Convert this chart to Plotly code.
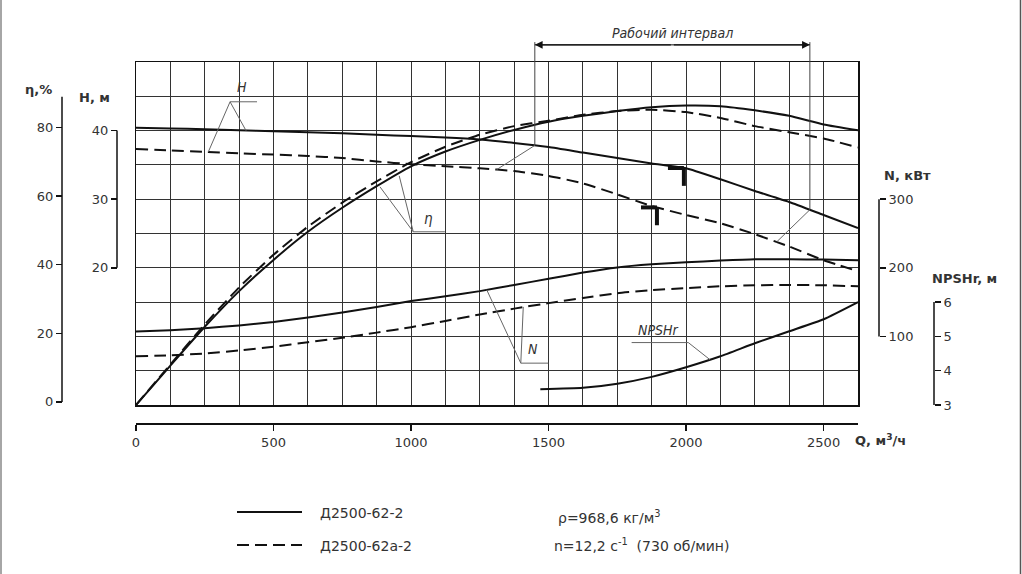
import numpy as np
import plotly.graph_objects as go

# ---------------- data ----------------
Q = [0, 125, 250, 375, 500, 625, 750, 875, 1000, 1125, 1250, 1375, 1500,
     1625, 1750, 1875, 2000, 2125, 2250, 2375, 2500, 2625]

H_62_2 = [40.4, 40.3, 40.2, 40.05, 39.9, 39.75, 39.6, 39.4, 39.2, 39.0, 38.7,
          38.2, 37.6, 36.8, 36.0, 35.2, 34.5, 32.9, 31.2, 29.6, 27.7, 25.8]
H_62a_2 = [37.3, 37.1, 36.9, 36.7, 36.5, 36.3, 36.0, 35.5, 35.1, 34.8, 34.5,
           34.1, 33.4, 32.3, 30.7, 29.0, 27.7, 26.5, 24.9, 23.1, 21.1, 19.5]

ETA_62_2 = [0, 11.5, 22.8, 33.2, 42.3, 50.5, 57.5, 63.8, 69.6, 73.9, 77.3,
            80.2, 82.6, 84.3, 85.7, 86.8, 87.3, 87.1, 85.9, 84.3, 81.8, 80.1]
ETA_62a_2 = [0, 11.8, 23.5, 34.3, 43.8, 52.0, 59.0, 65.2, 70.8, 75.3, 78.8,
             81.3, 82.9, 84.6, 85.7, 86.1, 85.4, 83.7, 81.3, 79.5, 77.7, 75.1]

N_62_2 = [107, 109, 112, 116, 121, 127.5, 135, 143, 151.5, 158.5, 166, 175,
          184, 193, 200.5, 205, 208, 210.5, 212.5, 212.5, 212, 211]
N_62a_2 = [71, 72.5, 75, 79.5, 85, 91.5, 98, 105.5, 113.5, 122.5, 132, 140.5,
           148.5, 156, 163, 167.5, 170.5, 173, 174.5, 175, 174.5, 173]

Q_NPSH = [1470, 1625, 1750, 1875, 2000, 2125, 2250, 2375, 2500, 2625]
NPSH_62_2 = [3.46, 3.5, 3.62, 3.82, 4.1, 4.42, 4.8, 5.15, 5.5, 6.0]

Q_TICKS = [0, 500, 1000, 1500, 2000, 2500]
ETA_TICKS = [0, 20, 40, 60, 80]
H_TICKS = [20, 30, 40]
N_TICKS = [100, 200, 300]
NPSH_TICKS = [3, 4, 5, 6]

WORK_RANGE = [1450, 2450]          # рабочий интервал, м3/ч
RATED_Q = [1992, 1894]             # номинальные точки (62-2, 62а-2)

# ---------------- layout geometry ----------------
FIG_W, FIG_H = 1022, 574
L_PX, R_PX, T_PX, B_PX = 40, 980, 62, 424


def px_x(px):
    return (px - L_PX) / (R_PX - L_PX)


def px_y(py):
    return (B_PX - py) / (B_PX - T_PX)


XDOM = [px_x(136), px_x(858)]
YDOM = [px_y(405), 1.0]


def g_to_paper(g):
    return YDOM[0] + g / 100.0 * (YDOM[1] - YDOM[0])


FONT = "DejaVu Sans, Liberation Sans, Arial, sans-serif"
IFONT = "DejaVu Sans Condensed, DejaVu Sans, Liberation Sans, sans-serif"
TXT = "#333333"
INK = "#111111"
LEAD = "#666666"
DASH = "12px,6px"

fig = go.Figure()

line_solid = dict(color=INK, width=2, shape="spline", smoothing=0.5)
line_dash = dict(color=INK, width=2, dash=DASH, shape="spline", smoothing=0.5)

# η on grid axis (y)
fig.add_trace(go.Scatter(x=Q, y=ETA_62_2, mode="lines", line=line_solid,
                         xaxis="x", yaxis="y", hoverinfo="skip"))
fig.add_trace(go.Scatter(x=Q, y=ETA_62a_2, mode="lines", line=line_dash,
                         xaxis="x", yaxis="y", hoverinfo="skip"))
# H on y3
fig.add_trace(go.Scatter(x=Q, y=H_62_2, mode="lines", line=line_solid,
                         xaxis="x", yaxis="y3", hoverinfo="skip"))
fig.add_trace(go.Scatter(x=Q, y=H_62a_2, mode="lines", line=line_dash,
                         xaxis="x", yaxis="y3", hoverinfo="skip"))
# N on y4
fig.add_trace(go.Scatter(x=Q, y=N_62_2, mode="lines", line=line_solid,
                         xaxis="x", yaxis="y4", hoverinfo="skip"))
fig.add_trace(go.Scatter(x=Q, y=N_62a_2, mode="lines", line=line_dash,
                         xaxis="x", yaxis="y4", hoverinfo="skip"))
# NPSH on y5
fig.add_trace(go.Scatter(x=Q_NPSH, y=NPSH_62_2, mode="lines", line=line_solid,
                         xaxis="x", yaxis="y5", hoverinfo="skip"))
# dummy trace so that the label axes x2/y2 render
fig.add_trace(go.Scatter(x=[0], y=[0], mode="markers", marker=dict(opacity=0),
                         xaxis="x2", yaxis="y2", hoverinfo="skip"))

shapes = []
annotations = []


def seg(x0, y0, x1, y1, xref="x", yref="y", color=LEAD, width=1, dash=None):
    ln = dict(color=color, width=width)
    if dash:
        ln["dash"] = dash
    shapes.append(dict(type="line", xref=xref, yref=yref, x0=x0, y0=y0,
                       x1=x1, y1=y1, line=ln))


def label(text, x, y, xref="x", yref="y", size=14, family=IFONT, xanchor="center"):
    annotations.append(dict(x=x, y=y, xref=xref, yref=yref, text=text, showarrow=False,
                            xanchor=xanchor, yanchor="middle",
                            font=dict(family=family, size=size, color=TXT)))


# partial axis lines (brackets)
seg(px_x(62), ETA_TICKS[0], px_x(62), 89, xref="paper", yref="y2", color=INK, width=1.5)
seg(px_x(117), H_TICKS[0], px_x(117), H_TICKS[-1], xref="paper", yref="y3", color=INK, width=1.5)
seg(px_x(879), N_TICKS[0], px_x(879), N_TICKS[-1], xref="paper", yref="y4", color=INK, width=1.5)
seg(px_x(934), NPSH_TICKS[0], px_x(934), NPSH_TICKS[-1], xref="paper", yref="y5", color=INK, width=1.5)

# working interval
h_s = [float(np.interp(q, Q, H_62_2)) for q in WORK_RANGE]
h_d_left = float(np.interp(1311, Q, H_62a_2))
h_d_right = float(np.interp(2329, Q, H_62a_2))
for q, h in zip(WORK_RANGE, h_s):
    seg(q, g_to_paper(h * 2), q, g_to_paper(105.8), xref="x", yref="paper",
        color="#444444", width=1)
seg(WORK_RANGE[0], h_s[0], 1311, h_d_left, yref="y3")
seg(WORK_RANGE[1], h_s[1], 2329, h_d_right, yref="y3")
arrow_y = g_to_paper(105)
seg(WORK_RANGE[0], arrow_y, WORK_RANGE[1], arrow_y, xref="x", yref="paper", color=INK, width=1)
mid = (WORK_RANGE[0] + WORK_RANGE[1]) / 2
for q in WORK_RANGE:
    annotations.append(dict(x=q, y=arrow_y, xref="x", yref="paper", ax=mid, ay=0,
                            axref="x", ayref="pixel", text="", showarrow=True,
                            arrowhead=2, arrowsize=1.3, arrowwidth=1.2,
                            arrowcolor=INK, standoff=0, startstandoff=0))
label("<i>Рабочий интервал</i>", 1949, g_to_paper(108.6), yref="paper")

# rated point markers
for q, hs in zip(RATED_Q, [H_62_2, H_62a_2]):
    h = float(np.interp(q, Q, hs))
    seg(q - 58, h, q, h, yref="y3", color=INK, width=4)
    seg(q, h, q, h - 2.6, yref="y3", color=INK, width=4)

# curve labels and leaders (grid units)
seg(342, 88.4, 440, 88.4)
seg(342, 88.4, 263, 73.8)
seg(342, 88.4, 400, 80.0)
label("<i>H</i>", 384, 92.6)
seg(1008, 50.5, 1123, 50.5)
seg(1008, 50.5, 887, 63.6)
seg(1008, 50.5, 957, 66.8)
label("<i>η</i>", 1063, 54.3, size=15)
seg(1399, 12.2, 1499, 12.2)
seg(1399, 12.2, 1275, 33.6)
seg(1399, 12.2, 1408, 28.6)
label("<i>N</i>", 1444, 16.2)
seg(1802, 18.2, 2008, 18.2)
seg(2008, 18.2, 2087, 13.2)
label("<i>NPSHr</i>", 1899, 22.0)

# axis titles
for txt, cx, cy in [("<b>η,%</b>", 38, 89), ("<b>H, м</b>", 94, 97),
                    ("<b>N, кВт</b>", 907, 175), ("<b>NPSHr, м</b>", 964, 278),
                    ("<b>Q, м<sup>3</sup>/ч</b>", 880, 440)]:
    label(txt, px_x(cx), px_y(cy), xref="paper", yref="paper", size=13, family=FONT)

# legend + notes
seg(px_x(237), px_y(512), px_x(302), px_y(512), xref="paper", yref="paper", color=INK, width=2)
seg(px_x(237), px_y(545), px_x(302), px_y(545), xref="paper", yref="paper", color=INK, width=2, dash=DASH)
for txt, lx, cy in [("Д2500-62-2", 318, 513), ("Д2500-62а-2", 318, 546),
                    ("ρ=968,6 кг/м<sup>3</sup>", 556, 517),
                    ("n=12,2 с<sup>-1</sup>  (730 об/мин)", 552, 545)]:
    label(txt, px_x(lx), px_y(cy), xref="paper", yref="paper", size=14, family=FONT,
          xanchor="left")

# frame
seg(px_x(1), px_y(0), px_x(1), px_y(574), xref="paper", yref="paper", color="#888888", width=1.5)
seg(px_x(1020.5), px_y(0), px_x(1020.5), px_y(574), xref="paper", yref="paper", color="#555555", width=1.5)

grid_common = dict(showgrid=True, gridcolor="#333333", gridwidth=1, showline=True,
                   mirror=True, linecolor=INK, linewidth=1.5, showticklabels=False,
                   ticks="", zeroline=False, fixedrange=True)
label_y = dict(overlaying="y", anchor="free", showgrid=False, zeroline=False,
               showline=False, ticks="outside", ticklen=6, tickwidth=1.5,
               tickcolor=INK, tickfont=dict(family=FONT, size=13, color=TXT),
               tickmode="array")

fig.update_layout(
    width=FIG_W, height=FIG_H, autosize=False,
    margin=dict(l=L_PX, r=FIG_W - R_PX, t=T_PX, b=FIG_H - B_PX, pad=0),
    paper_bgcolor="white", plot_bgcolor="white", showlegend=False,
    xaxis=dict(domain=XDOM, range=[0, 2625], tick0=0, dtick=125, anchor="y", **grid_common),
    yaxis=dict(domain=YDOM, range=[0, 100], tick0=0, dtick=10, anchor="x", **grid_common),
    xaxis2=dict(overlaying="x", anchor="free", position=0, range=[0, 2625], side="bottom",
                tickmode="array", tickvals=Q_TICKS, ticks="outside", ticklen=6, tickwidth=1.5,
                tickcolor=INK, showline=True, linecolor=INK, linewidth=2, showgrid=False,
                zeroline=False, tickfont=dict(family=FONT, size=13, color=TXT)),
    yaxis2=dict(position=px_x(62), side="left", range=[-0.9, 99.1], tickvals=ETA_TICKS, **label_y),
    yaxis3=dict(position=px_x(117), side="left", range=[0, 50], tickvals=H_TICKS, **label_y),
    yaxis4=dict(position=px_x(879), side="right", range=[0, 500], tickvals=N_TICKS, **label_y),
    yaxis5=dict(position=px_x(934), side="right", range=[3, 13], tickvals=NPSH_TICKS, **label_y),
    shapes=shapes, annotations=annotations,
)

fig.write_html("out.html", config={"displayModeBar": False, "staticPlot": True},
               post_script="document.body.style.margin='0px';")
